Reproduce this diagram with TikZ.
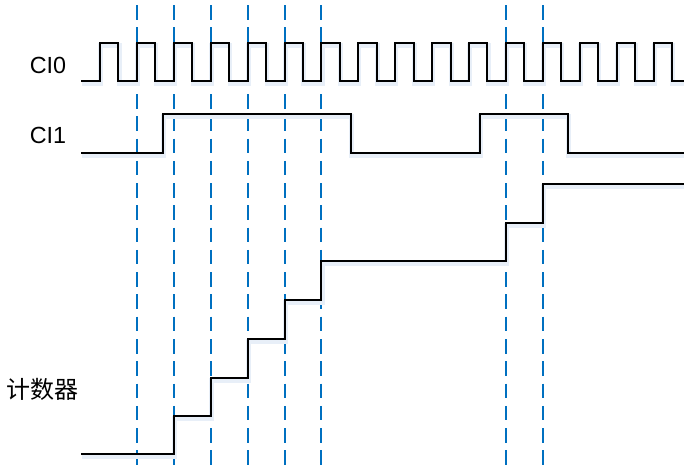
\documentclass[tikz,border=0pt]{standalone}
\usepackage{fontspec}
\setmainfont{Liberation Sans}
\newfontfamily\cjk{Noto Sans CJK SC}
\definecolor{azul}{RGB}{0,112,192}
\definecolor{sombra}{RGB}{232,239,248}

\begin{document}
\begin{tikzpicture}[
    x=0.75pt, y=-0.75pt,
    sinal/.style={line width=1.5pt, line join=miter,
      preaction={draw=sombra, line width=3.5pt, transform canvas={xshift=0.6pt, yshift=-2pt}}},
    marca/.style={draw=azul, line width=1.5pt, dash pattern=on 10.9pt off 5.8pt},
    rotulo/.style={inner sep=0pt, font=\fontsize{17.5}{19}\selectfont},
  ]
  \useasboundingbox (0,0) rectangle (684,465);

  % Rotulos
  \node[rotulo] (ci0) at (48,65.5) {CI0};
  \node[rotulo] (ci1) at (48,135.5) {CI1};
  \node[rotulo, font=\fontsize{18}{20}\selectfont\cjk] (cont) at (43,389) {计数器};

  % Marcas tracejadas
  \foreach \k in {1,...,6,11,12}
    \draw[marca] ({100+36.9*\k},5) -- ({100+36.9*\k},465);

  % CI0
  \draw[sinal] (81,81) foreach \k in {0,...,15} {
      -- ({100+36.9*\k},81) -- ({100+36.9*\k},43)
      -- ({118.45+36.9*\k},43) -- ({118.45+36.9*\k},81) } -- (684,81);

  % CI1
  \draw[sinal] (81,153) -- (163,153) -- (163,114) -- (350.5,114) -- (350.5,153)
    -- (480,153) -- (480,114) -- (568,114) -- (568,153) -- (684,153);

  % Contador
  \draw[sinal] (81,454) -- (173.8,454) -- (173.8,416) -- (210.7,416) -- (210.7,377.5)
    -- (247.6,377.5) -- (247.6,339) -- (284.5,339) -- (284.5,300) -- (321.4,300)
    -- (321.4,261) -- (505.9,261) -- (505.9,222.5) -- (542.8,222.5) -- (542.8,184)
    -- (684,184);
\end{tikzpicture}
\end{document}
